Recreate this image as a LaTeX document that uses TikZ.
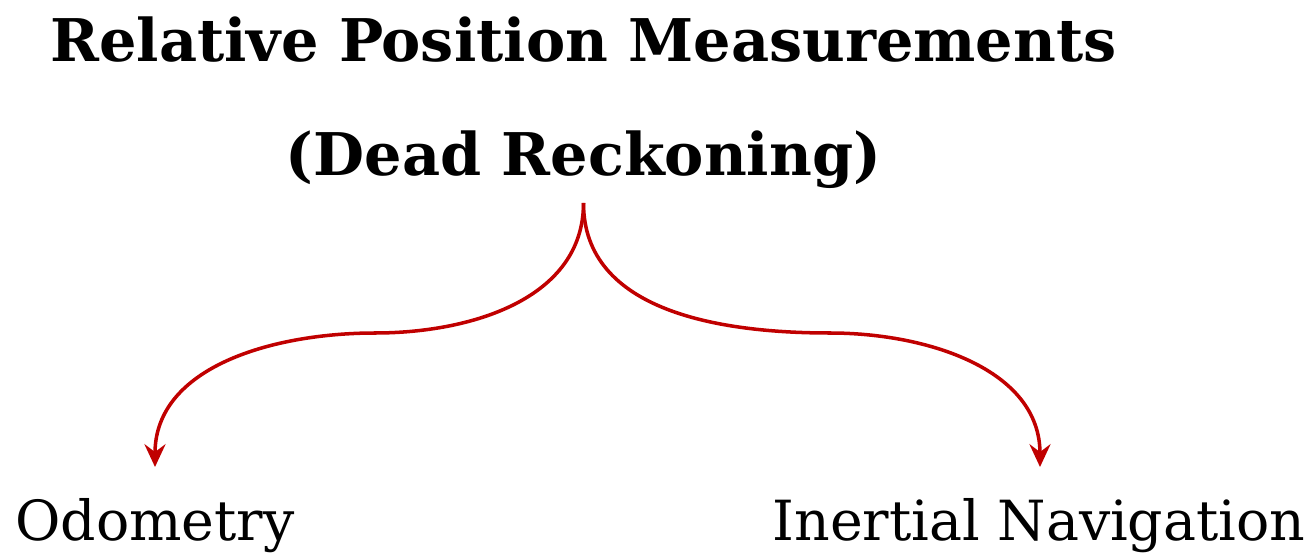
\documentclass[tikz,border=0pt]{standalone}
\usepackage{fontspec}
\setmainfont{DejaVu Serif}
\usetikzlibrary{arrows.meta}
\definecolor{branchred}{RGB}{192,0,0}

\begin{document}
\begin{tikzpicture}[x=0.02cm, y=-0.02cm,
  heading/.style={font=\fontsize{33.5}{38}\selectfont\bfseries, anchor=base},
  leaf/.style={font=\fontsize{31.5}{36}\selectfont, anchor=base, inner sep=0pt},
  branch/.style={draw=branchred, line width=2pt, -{Stealth[length=13pt, width=12pt, inset=4.5pt]}}]

\useasboundingbox (0,0) rectangle (1313,554);

\node[heading] (head) at (583.5,62)  {Relative Position Measurements};
\node[heading] (sub)  at (583.5,175) {(Dead Reckoning)};

\node[leaf] (odo) at (155,540)  {Odometry};
\node[leaf] (ins) at (1039,540) {Inertial Navigation};

\coordinate (fork) at (583.5,203);
\coordinate (lmid) at (375,333);
\coordinate (rmid) at (830,333);

\draw[branch] (fork) to[out=-90, in=0] (lmid) to[out=180, in=90] (155,467);
\draw[branch] (fork) to[out=-90, in=180] (rmid) to[out=0, in=90] (1040,467);

\end{tikzpicture}
\end{document}
